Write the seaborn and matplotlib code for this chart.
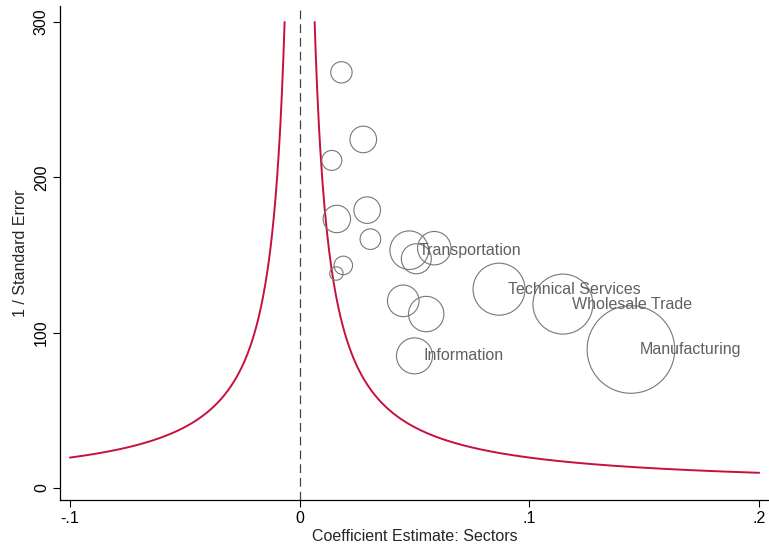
import numpy as np
import pandas as pd
import matplotlib
matplotlib.use("Agg")
import matplotlib.pyplot as plt
import seaborn as sns

# ---- data ----
coef = [0.0182, 0.0277, 0.0140, 0.0294, 0.0162, 0.0308, 0.0190, 0.0160,
        0.0477, 0.0586, 0.0508, 0.0451, 0.0551, 0.0500, 0.0868, 0.1146, 0.1442]
inv_se = [267.6, 224.4, 210.9, 178.9, 173.2, 160.2, 143.3, 138.1,
          153.1, 154.4, 147.6, 120.5, 112.0, 85.1, 128.0, 118.4, 89.2]
weight = [114, 177, 100, 177, 188, 106, 86, 45,
          372, 279, 225, 250, 313, 324, 676, 900, 1918]
labels = ["", "", "", "", "", "", "", "",
          "Transportation", "", "", "", "", "Information",
          "Technical Services", "Wholesale Trade", "Manufacturing"]
z_crit = 1.96
x_ticks = [-0.1, 0, 0.1, 0.2]
x_ticklabels = ["-.1", "0", ".1", ".2"]
y_ticks = [0, 100, 200, 300]
y_ticklabels = ["0", "100", "200", "300"]

df = pd.DataFrame({"coef": coef, "inv_se": inv_se, "weight": weight, "label": labels})

sns.set_style("white")
plt.rcParams["font.family"] = ["Liberation Sans", "DejaVu Sans"]

FS = 11.5

fig = plt.figure(figsize=(7.69, 5.49), dpi=100)
ax = fig.add_axes([60 / 769, (549 - 500) / 549, (769 - 60) / 769, (500 - 6) / 549])

# significance boundary curve
xl = np.linspace(-0.1, -z_crit / 300, 400)
xr = np.linspace(z_crit / 300, 0.2, 400)
red = "#C8103E"
ax.plot(xl, z_crit / np.abs(xl), color=red, lw=1.4, zorder=2)
ax.plot(xr, z_crit / np.abs(xr), color=red, lw=1.4, zorder=2)

ax.axvline(0, color="#444444", lw=0.9, ls=(0, (7, 4)), zorder=1)

# bubbles: area proportional to weight
smax = 2.0736 * max(weight)
sns.scatterplot(data=df, x="coef", y="inv_se", size="weight",
                sizes=(0, smax), size_norm=(0, max(weight)),
                facecolors="none", edgecolor="#777777", linewidth=0.8,
                legend=False, ax=ax, zorder=3)
for coll in ax.collections:
    coll.set_facecolor("none")
    coll.set_edgecolor("#777777")
    coll.set_linewidth(0.8)

for _, r in df.iterrows():
    if r["label"]:
        ax.annotate(r["label"], (r["coef"], r["inv_se"]), xytext=(6.5, 0),
                    textcoords="offset points", va="center", ha="left",
                    fontsize=FS, color="#606060", zorder=4)

ax.set_xlim(-0.1043, 0.2043)
ax.set_ylim(-7.7, 310.3)
ax.set_xticks(x_ticks)
ax.set_xticklabels(x_ticklabels)
ax.set_yticks(y_ticks)
ax.set_yticklabels(y_ticklabels, rotation=90, va="center")
ax.tick_params(axis="both", direction="out", length=5, width=0.8, color="black",
               labelsize=FS, labelcolor="black", bottom=True, left=True, pad=3)
ax.set_xlabel("Coefficient Estimate: Sectors", fontsize=FS, labelpad=2)
ax.set_ylabel("1 / Standard Error", fontsize=FS, labelpad=4)

for s in ["top", "right"]:
    ax.spines[s].set_visible(False)
for s in ["left", "bottom"]:
    ax.spines[s].set_color("black")
    ax.spines[s].set_linewidth(0.9)

fig.savefig("out.png", dpi=100)
